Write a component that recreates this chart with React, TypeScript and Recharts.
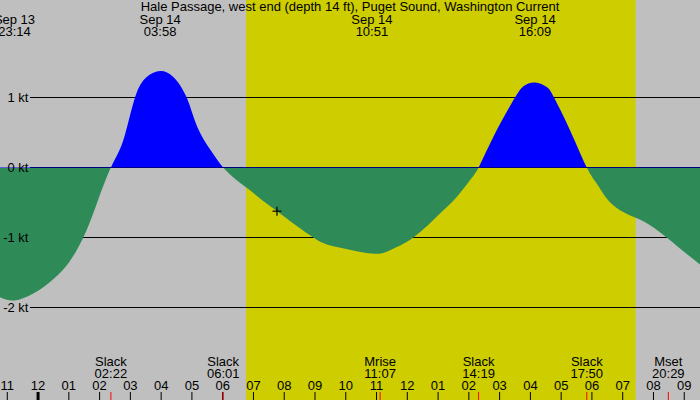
import {
  Area,
  CartesianGrid,
  ComposedChart,
  ReferenceArea,
  ReferenceDot,
  XAxis,
  YAxis,
} from "recharts";

// hours counted from Sep 13 00:00
const flowHours = [
  22.763, 23.233, 23.845, 24.388, 24.93, 25.47, 25.905, 26.367, 26.77, 27.15,
  27.53, 27.967, 28.395, 28.83, 29.175, 29.61, 30.017, 30.455, 30.888, 31.213,
  31.765, 32.945, 33.705, 34.85, 35.437, 36.195, 37.062, 37.605, 38.037, 38.317,
  38.795, 39.5, 39.825, 40.15, 40.53, 40.768, 41.288, 41.833, 42.155, 42.48,
  42.912, 43.4, 43.887, 44.43, 44.862, 45.512,
];
const flowKnots = [
  -1.853, -1.9, -1.8, -1.634, -1.4, -1.0, -0.52, 0, 0.39, 1.0, 1.294, 1.38,
  1.294, 1.0, 0.58, 0.247, 0, -0.181, -0.324, -0.443, -0.624, -1.0, -1.134,
  -1.229, -1.181, -1.0, -0.657, -0.42, -0.181, 0, 0.437, 1.0, 1.176, 1.214,
  1.151, 1.0, 0.533, 0, -0.229, -0.443, -0.61, -0.714, -0.824, -1.0, -1.157,
  -1.386,
];

const hourTicks = [
  23, 24, 25, 26, 27, 28, 29, 30, 31, 32, 33, 34, 35, 36, 37, 38, 39, 40, 41,
  42, 43, 44, 45,
];
const knotTicks = [1, 0, -1, -2];

const peakHours = [23.233, 27.967, 34.85, 40.15];
const peakDays = ["Sep 13", "Sep 14", "Sep 14", "Sep 14"];
const peakTimes = ["23:14", "03:58", "10:51", "16:09"];

const eventHours = [26.367, 30.017, 35.117, 38.317, 41.833, 44.483];
const eventNames = ["Slack", "Slack", "Mrise", "Slack", "Slack", "Mset"];
const eventTimes = ["02:22", "06:01", "11:07", "14:19", "17:50", "20:29"];

const sunrise = 30.758;
const sunset = 43.42;
const nowHour = 31.765;
const nowKnots = -0.624;

const TITLE =
  "Hale Passage, west end (depth 14 ft), Puget Sound, Washington Current";

const X_MIN = 22.763;
const X_MAX = 45.512;
const Y_MAX = 2.3929;
const Y_MIN = -3.3214;
const ZERO_AT = Y_MAX / (Y_MAX - Y_MIN);

const FONT = "'Liberation Sans', Arial, sans-serif";
const FS = 13;

const rows = flowHours.map((t, i) => ({ t, v: flowKnots[i] }));
const allTicks = [...hourTicks, ...eventHours, ...peakHours];

const hourLabel = (h: number) => {
  const n = h % 12 === 0 ? 12 : h % 12;
  return n < 10 ? `0${n}` : `${n}`;
};

const Txt = ({ x, y, children }: any) => (
  <text x={x} y={y} textAnchor="middle" fontSize={FS} fill="#000" fontFamily={FONT}>
    {children}
  </text>
);

const TimeTick = (props: any) => {
  const { x, payload } = props;
  const t = payload.value as number;
  const ev = eventHours.indexOf(t);
  if (ev >= 0) {
    return (
      <g>
        <line x1={x} x2={x} y1={392} y2={400} stroke="#ff0000" strokeWidth={1} />
        <Txt x={x} y={366}>{eventNames[ev]}</Txt>
        <Txt x={x} y={378}>{eventTimes[ev]}</Txt>
      </g>
    );
  }
  const pk = peakHours.indexOf(t);
  if (pk >= 0) {
    return (
      <g>
        <Txt x={x} y={24}>{peakDays[pk]}</Txt>
        <Txt x={x} y={36}>{peakTimes[pk]}</Txt>
      </g>
    );
  }
  return (
    <g>
      <line
        x1={x}
        x2={x}
        y1={392}
        y2={400}
        stroke="#000"
        strokeWidth={t === 24 ? 3 : 1}
      />
      <Txt x={x} y={389.5}>{hourLabel(t)}</Txt>
    </g>
  );
};

const KnotTick = (props: any) => {
  const { y, payload } = props;
  return (
    <text x={28.5} y={y + 4.5} textAnchor="end" fontSize={FS} fill="#000" fontFamily={FONT}>
      {`${payload.value} kt`}
    </text>
  );
};

const Cross = (props: any) => {
  const { cx, cy } = props;
  return (
    <g stroke="#000" strokeWidth={1.2}>
      <line x1={cx - 4.5} x2={cx + 4.5} y1={cy} y2={cy} />
      <line x1={cx} x2={cx} y1={cy - 4.5} y2={cy + 4.5} />
    </g>
  );
};

export default function App() {
  return (
    <div
      style={{
        position: "absolute",
        left: 0,
        top: 0,
        width: 700,
        height: 400,
        background: "#bfbfbf",
        overflow: "hidden",
      }}
    >
      <ComposedChart
        width={700}
        height={400}
        data={rows}
        margin={{ top: 0, right: 0, bottom: 0, left: 0 }}
      >
        <defs>
          <linearGradient
            id="flowFill"
            x1={0}
            y1={0}
            x2={0}
            y2={400}
            gradientUnits="userSpaceOnUse"
          >
            <stop offset={ZERO_AT} stopColor="#0000ff" />
            <stop offset={ZERO_AT} stopColor="#2e8b57" />
          </linearGradient>
        </defs>
        <ReferenceArea
          x1={sunrise}
          x2={sunset}
          y1={Y_MIN}
          y2={Y_MAX}
          fill="#cdcd00"
          fillOpacity={1}
          stroke="none"
          ifOverflow="hidden"
          zIndex={-200}
        />
        <CartesianGrid
          x={30}
          width={670}
          vertical={false}
          horizontalValues={knotTicks}
          stroke="#000"
          strokeWidth={1}
          strokeOpacity={1}
        />
        <Area
          dataKey="v"
          type="natural"
          baseValue={0}
          fill="url(#flowFill)"
          fillOpacity={1}
          stroke="none"
          isAnimationActive={false}
          activeDot={false}
        />
        <ReferenceDot x={nowHour} y={nowKnots} r={4} shape={Cross} />
        <XAxis
          dataKey="t"
          type="number"
          domain={[X_MIN, X_MAX]}
          allowDataOverflow
          ticks={allTicks}
          interval={0}
          height={1}
          mirror
          axisLine={false}
          tickLine={false}
          tick={TimeTick}
        />
        <YAxis
          type="number"
          domain={[Y_MIN, Y_MAX]}
          allowDataOverflow
          ticks={knotTicks}
          interval={0}
          width={1}
          mirror
          axisLine={false}
          tickLine={false}
          tick={KnotTick}
        />
      </ComposedChart>
      <div
        style={{
          position: "absolute",
          left: 0,
          top: 0,
          width: 700,
          textAlign: "center",
          fontFamily: FONT,
          fontSize: FS,
          lineHeight: "14px",
          color: "#000",
          pointerEvents: "none",
        }}
      >
        {TITLE}
      </div>
    </div>
  );
}
